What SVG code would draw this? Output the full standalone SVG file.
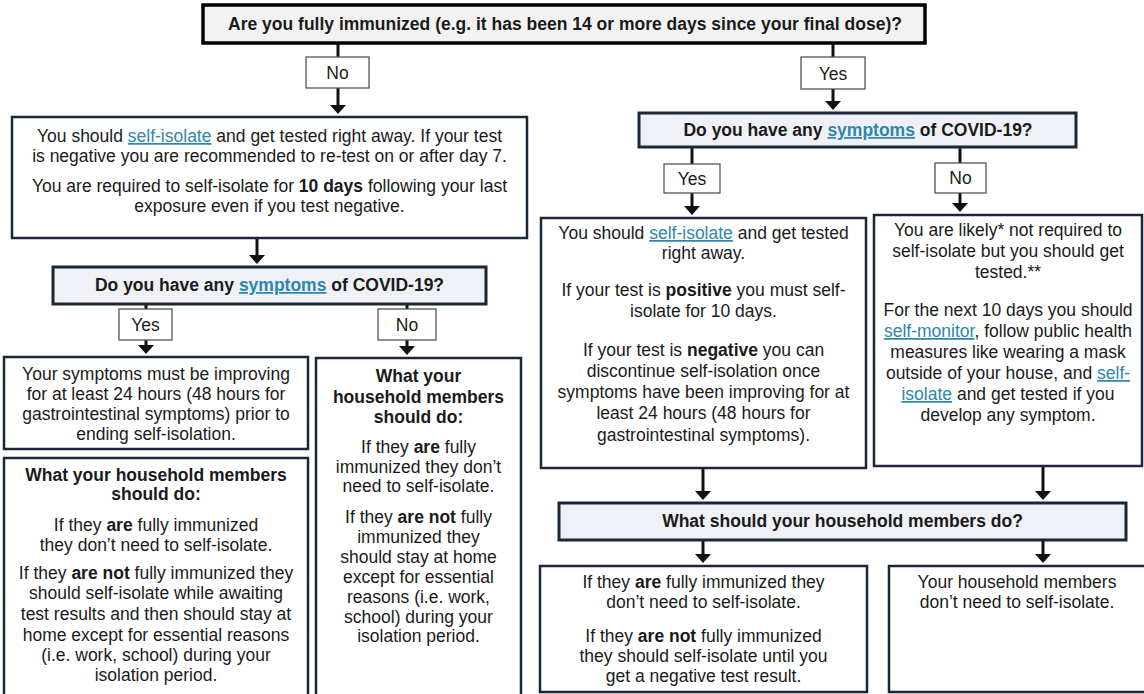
<svg xmlns="http://www.w3.org/2000/svg" width="1144" height="694" viewBox="0 0 1144 694">
<style>
.t{font-family:"Liberation Sans",Arial,sans-serif;font-size:17.5px;fill:#1a1a1a;text-anchor:middle}
.b{font-weight:bold}
.lk{fill:#2f86ad;text-decoration:underline}
.box{fill:#fff;stroke:#1b2636;stroke-width:2.5}
.q{fill:#eff1f6;stroke:#1b2636;stroke-width:3}
.top{fill:#f2f2f2;stroke:#000;stroke-width:3.5}
.lbl{fill:#fff;stroke:#555;stroke-width:1.3}
.c{stroke:#111;stroke-width:3;fill:none}
.a{marker-end:url(#ah)}
</style>
<defs>
<marker id="ah" viewBox="0 0 9 16" refX="1" refY="8" markerWidth="9" markerHeight="16" markerUnits="userSpaceOnUse" orient="auto">
<path d="M0,0 L9,8 L0,16 z" fill="#111"/>
</marker>
</defs>
<rect width="1144" height="694" fill="#fff"/>

<g id="connectors">
<line class="c" x1="338" y1="43" x2="338" y2="57"/>
<line class="c a" x1="338" y1="88" x2="338" y2="106"/>
<line class="c" x1="833" y1="43" x2="833" y2="57"/>
<line class="c a" x1="833" y1="89" x2="833" y2="102"/>
<line class="c" x1="692" y1="147" x2="692" y2="164"/>
<line class="c a" x1="692" y1="193" x2="692" y2="207"/>
<line class="c" x1="960" y1="147" x2="960" y2="163"/>
<line class="c a" x1="960" y1="193" x2="960" y2="204"/>
<line class="c a" x1="257" y1="238" x2="257" y2="256"/>
<line class="c" x1="146" y1="304" x2="146" y2="309"/>
<line class="c a" x1="146" y1="340" x2="146" y2="346"/>
<line class="c" x1="407" y1="304" x2="407" y2="309"/>
<line class="c a" x1="407" y1="340" x2="407" y2="347"/>
<line class="c a" x1="703" y1="468" x2="703" y2="492"/>
<line class="c a" x1="1043" y1="466" x2="1043" y2="492"/>
<line class="c a" x1="703" y1="540" x2="703" y2="555"/>
<line class="c a" x1="1043" y1="540" x2="1043" y2="555"/>
</g>

<g id="q1">
<rect class="top" x="203" y="5" width="722" height="38"/>
<text class="t b" x="565" y="30">Are you fully immunized (e.g. it has been 14 or more days since your final dose)?</text>
</g>

<g id="l-no1">
<rect class="lbl" x="306" y="57" width="63" height="31"/>
<text class="t" x="337.5" y="79">No</text>
</g>

<g id="l-yes1">
<rect class="lbl" x="801" y="57" width="64" height="32"/>
<text class="t" x="833" y="80">Yes</text>
</g>

<g id="boxA">
<rect class="box" x="12" y="117" width="515" height="121"/>
<text class="t" x="269.5" y="142">You should <tspan class="lk">self-isolate</tspan> and get tested right away. If your test</text>
<text class="t" x="269.5" y="162">is negative you are recommended to re-test on or after day 7.</text>
<text class="t" x="269.5" y="192">You are required to self-isolate for <tspan class="b">10 days</tspan> following your last</text>
<text class="t" x="269.5" y="212">exposure even if you test negative.</text>
</g>

<g id="q2r">
<rect class="q" x="639" y="113" width="437" height="34"/>
<text class="t b" x="858" y="136">Do you have any <tspan class="lk">symptoms</tspan> of COVID-19?</text>
</g>

<g id="l-yes2r">
<rect class="lbl" x="664" y="164" width="56" height="29"/>
<text class="t" x="692" y="185">Yes</text>
</g>

<g id="l-no2r">
<rect class="lbl" x="935" y="163" width="51" height="30"/>
<text class="t" x="960.5" y="184">No</text>
</g>

<g id="boxRY">
<rect class="box" x="541" y="218" width="325" height="250"/>
<text class="t" x="703.5" y="239">You should <tspan class="lk">self-isolate</tspan> and get tested</text>
<text class="t" x="703.5" y="259">right away.</text>
<text class="t" x="703.5" y="296">If your test is <tspan class="b">positive</tspan> you must self-</text>
<text class="t" x="703.5" y="317">isolate for 10 days.</text>
<text class="t" x="703.5" y="356">If your test is <tspan class="b">negative</tspan> you can</text>
<text class="t" x="703.5" y="377">discontinue self-isolation once</text>
<text class="t" x="703.5" y="398">symptoms have been improving for at</text>
<text class="t" x="703.5" y="419">least 24 hours (48 hours for</text>
<text class="t" x="703.5" y="441">gastrointestinal symptoms).</text>
</g>

<g id="boxRN">
<rect class="box" x="874" y="215" width="268" height="251"/>
<text class="t" x="1008" y="236">You are likely* not required to</text>
<text class="t" x="1008" y="257">self-isolate but you should get</text>
<text class="t" x="1008" y="278">tested.**</text>
<text class="t" x="1008" y="316">For the next 10 days you should</text>
<text class="t" x="1008" y="337"><tspan class="lk">self-monitor</tspan>, follow public health</text>
<text class="t" x="1008" y="358">measures like wearing a mask</text>
<text class="t" x="1008" y="379">outside of your house, and <tspan class="lk">self-</tspan></text>
<text class="t" x="1008" y="400"><tspan class="lk">isolate</tspan> and get tested if you</text>
<text class="t" x="1008" y="421">develop any symptom.</text>
</g>

<g id="q2l">
<rect class="q" x="53" y="267" width="433" height="37"/>
<text class="t b" x="269.5" y="291">Do you have any <tspan class="lk">symptoms</tspan> of COVID-19?</text>
</g>

<g id="l-yes2l">
<rect class="lbl" x="119" y="309" width="53" height="31"/>
<text class="t" x="145.5" y="331">Yes</text>
</g>

<g id="l-no2l">
<rect class="lbl" x="378" y="309" width="58" height="31"/>
<text class="t" x="407" y="331">No</text>
</g>

<g id="boxYS">
<rect class="box" x="4" y="357" width="304" height="92"/>
<text class="t" x="156" y="380">Your symptoms must be improving</text>
<text class="t" x="156" y="400">for at least 24 hours (48 hours for</text>
<text class="t" x="156" y="420">gastrointestinal symptoms) prior to</text>
<text class="t" x="156" y="440">ending self-isolation.</text>
</g>

<g id="boxMID">
<rect class="box" x="316" y="358" width="205" height="342"/>
<text class="t b" x="418.5" y="382">What your</text>
<text class="t b" x="418.5" y="403">household members</text>
<text class="t b" x="418.5" y="423">should do:</text>
<text class="t" x="418.5" y="453">If they <tspan class="b">are</tspan> fully</text>
<text class="t" x="418.5" y="473">immunized they don’t</text>
<text class="t" x="418.5" y="492">need to self-isolate.</text>
<text class="t" x="418.5" y="523">If they <tspan class="b">are not</tspan> fully</text>
<text class="t" x="418.5" y="543">immunized they</text>
<text class="t" x="418.5" y="563">should stay at home</text>
<text class="t" x="418.5" y="583">except for essential</text>
<text class="t" x="418.5" y="603">reasons (i.e. work,</text>
<text class="t" x="418.5" y="623">school) during your</text>
<text class="t" x="418.5" y="642">isolation period.</text>
</g>

<g id="boxLB">
<rect class="box" x="4" y="458" width="304" height="242"/>
<text class="t b" x="156" y="481">What your household members</text>
<text class="t b" x="156" y="500">should do:</text>
<text class="t" x="156" y="531">If they <tspan class="b">are</tspan> fully immunized</text>
<text class="t" x="156" y="551">they don’t need to self-isolate.</text>
<text class="t" x="156" y="579">If they <tspan class="b">are not</tspan> fully immunized they</text>
<text class="t" x="156" y="599">should self-isolate while awaiting</text>
<text class="t" x="156" y="620">test results and then should stay at</text>
<text class="t" x="156" y="641">home except for essential reasons</text>
<text class="t" x="156" y="661">(i.e. work, school) during your</text>
<text class="t" x="156" y="681">isolation period.</text>
</g>

<g id="q3">
<rect class="q" x="559" y="503" width="567" height="37"/>
<text class="t b" x="842.5" y="527">What should your household members do?</text>
</g>

<g id="boxBL">
<rect class="box" x="540" y="566" width="327" height="126"/>
<text class="t" x="703.5" y="588">If they <tspan class="b">are</tspan> fully immunized they</text>
<text class="t" x="703.5" y="608">don’t need to self-isolate.</text>
<text class="t" x="703.5" y="642">If they <tspan class="b">are not</tspan> fully immunized</text>
<text class="t" x="703.5" y="662">they should self-isolate until you</text>
<text class="t" x="703.5" y="682">get a negative test result.</text>
</g>

<g id="boxBR">
<rect class="box" x="889" y="566" width="260" height="126"/>
<text class="t" x="1017" y="588">Your household members</text>
<text class="t" x="1017" y="608">don’t need to self-isolate.</text>
</g>
</svg>
